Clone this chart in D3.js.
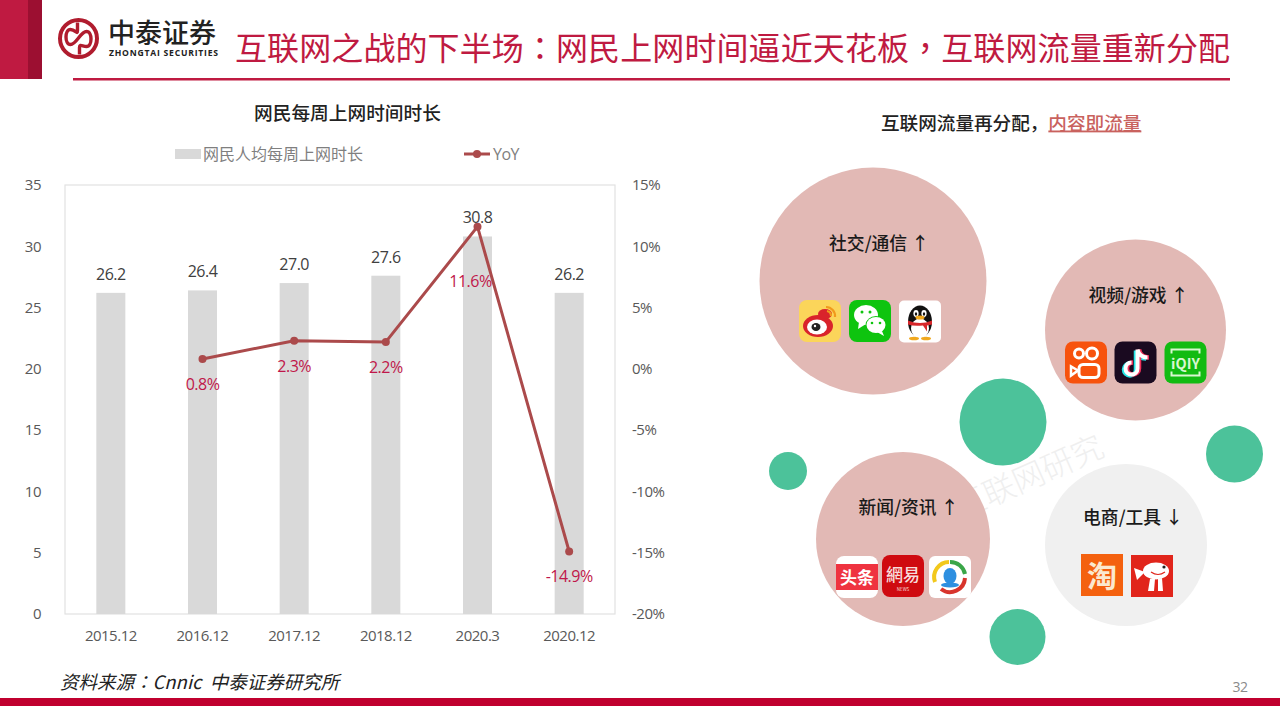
<!DOCTYPE html>
<html>
<head>
<meta charset="utf-8">
<script src="https://cdn.jsdelivr.net/npm/d3@7"></script>
<style>
html,body{margin:0;padding:0;background:#fff;overflow:hidden}
text{font-family:"Noto Sans CJK SC","Noto Sans",sans-serif}
.num{font-family:"Open Sans","Noto Sans CJK SC",sans-serif;letter-spacing:-0.5px}
</style>
</head>
<body>
<div id="chart"></div>
<script>
const categories=["2015.12","2016.12","2017.12","2018.12","2020.3","2020.12"];
const hours=[26.2,26.4,27.0,27.6,30.8,26.2];
const yoy=[null,0.8,2.3,2.2,11.6,-14.9];
const leftTicks=[0,5,10,15,20,25,30,35];
const rightTicks=[-20,-15,-10,-5,0,5,10,15];

const bubbles=[
  {name:"社交/通信 ↑",cx:873,cy:281,r:113.5,fill:"#e2b9b5",tx:879,ty:244},
  {name:"视频/游戏 ↑",cx:1135.5,cy:330,r:90.5,fill:"#e2b9b5",tx:1138.5,ty:296},
  {name:"新闻/资讯 ↑",cx:903,cy:539,r:87,fill:"#e2b9b5",tx:908.5,ty:508},
  {name:"电商/工具 ↓",cx:1126,cy:545,r:81,fill:"#f0f0f0",tx:1133,ty:518}
];
const dots=[[1003,422,43.5],[788,471,19],[1234.5,454,28.5],[1017.5,637,28]];

const red="#bf1a41",dark="#9c0f31",deep="#c0002f";
const svg=d3.select("#chart").append("svg").attr("width",1280).attr("height",720).style("display","block");

// header
svg.append("rect").attr("x",0).attr("y",0).attr("width",28).attr("height",79).attr("fill",red);
svg.append("rect").attr("x",28).attr("y",0).attr("width",14).attr("height",79).attr("fill",dark);
svg.append("rect").attr("x",73).attr("y",78).attr("width",1157).attr("height",2.5).attr("fill",red);

// logo
let logo=svg.append("g").attr("transform","translate(78.5,38.5)");
logo.append("circle").attr("r",18.5).attr("fill","none").attr("stroke","#b01c2e").attr("stroke-width",4);
logo.append("path").attr("fill","none").attr("stroke","#b01c2e").attr("stroke-width",3.4)
  .attr("d","M-1,-16 V-8 C-1,-3 -3,-9 -8,-9 C-14,-9 -14,6 -8,6 C-2,6 2,-7 8,-7 C14,-7 14,8 8,8 C4,8 1,5 1,9 V16");
svg.append("text").attr("x",108).attr("y",43).attr("font-size",27).attr("font-weight",500).attr("fill","#222").text("中泰证券");
svg.append("text").attr("x",109).attr("y",55.5).attr("font-size",8.6).attr("font-weight",700).attr("fill","#222")
  .attr("textLength",109).style("font-family","'Open Sans',sans-serif").text("ZHONGTAI SECURITIES");

// title, centred punctuation comes from the TC face
let title=svg.append("text").attr("x",235).attr("y",60).attr("font-size",32).attr("letter-spacing",0.1).attr("fill",red);
title.append("tspan").text("互联网之战的下半场");
title.append("tspan").style("font-family","'Noto Sans CJK TC'").text("：");
title.append("tspan").text("网民上网时间逼近天花板");
title.append("tspan").style("font-family","'Noto Sans CJK TC'").text("，");
title.append("tspan").text("互联网流量重新分配");

// footer
svg.append("rect").attr("x",0).attr("y",698).attr("width",1280).attr("height",8).attr("fill",deep);
svg.append("text").attr("class","num").attr("x",1240).attr("y",692).attr("text-anchor","middle").attr("font-size",14).attr("fill","#8a8a8a").text("32");
let src=svg.append("text").attr("x",60).attr("y",689).attr("font-size",18.5).attr("font-style","italic").attr("fill","#222").style("white-space","pre");
src.append("tspan").text("资料来源");
src.append("tspan").style("font-family","'Noto Sans CJK TC'").text("：");
src.append("tspan").text("Cnnic  中泰证券研究所");

// left chart
const x0=65,x1=615,yTop=185,yBot=614;
const x=d3.scaleBand().domain(categories).range([x0,x1]);
const y=d3.scaleLinear().domain([0,35]).range([yBot,yTop]);
const y2=d3.scaleLinear().domain([-20,15]).range([yBot,yTop]);
const barW=29;

svg.append("text").attr("x",347.5).attr("y",120).attr("text-anchor","middle").attr("font-size",18.7).attr("font-weight",500).attr("fill","#222").text("网民每周上网时间时长");

svg.append("rect").attr("x",x0).attr("y",yTop).attr("width",x1-x0).attr("height",yBot-yTop).attr("fill","none").attr("stroke","#e2e2e2").attr("stroke-width",1.2);

svg.selectAll(".bar").data(categories).enter().append("rect").attr("class","bar")
  .attr("x",d=>x(d)+x.bandwidth()/2-barW/2)
  .attr("width",barW)
  .attr("y",(d,i)=>y(hours[i]))
  .attr("height",(d,i)=>yBot-y(hours[i]))
  .attr("fill","#d9d9d9");

function cleanAxis(g){
  g.select(".domain").remove();
  g.selectAll(".tick line").remove();
  g.selectAll("text").attr("class","num").attr("fill","#595959").attr("font-size",15);
}
svg.append("g").attr("transform","translate("+(x0-21)+",0)")
  .call(d3.axisLeft(y).tickValues(leftTicks).tickSize(0).tickFormat(d3.format("d"))).call(cleanAxis);
svg.append("g").attr("transform","translate(632,0)")
  .call(d3.axisRight(y2).tickValues(rightTicks).tickSize(0).tickFormat(d=>d+"%")).call(cleanAxis)
  .selectAll("text").attr("x",0).attr("text-anchor","start");
svg.append("g").attr("transform","translate(0,"+(yBot+16)+")")
  .call(d3.axisBottom(x).tickSize(0).tickPadding(0)).call(cleanAxis)
  .selectAll("text").attr("dy","0.75em");

const pts=categories.map((c,i)=>({c:c,v:yoy[i],i:i})).filter(d=>d.v!==null);
const line=d3.line().x(d=>x(d.c)+x.bandwidth()/2).y(d=>y2(d.v));
svg.append("path").datum(pts).attr("d",line).attr("fill","none").attr("stroke","#ab4a4b").attr("stroke-width",3).attr("stroke-linejoin","round");
svg.selectAll(".pt").data(pts).enter().append("circle").attr("class","pt")
  .attr("cx",d=>x(d.c)+x.bandwidth()/2).attr("cy",d=>y2(d.v)).attr("r",4).attr("fill","#ab4a4b");

svg.selectAll(".barlabel").data(categories).enter().append("text").attr("class","num barlabel")
  .attr("x",d=>x(d)+x.bandwidth()/2).attr("y",(d,i)=>y(hours[i])-13)
  .attr("text-anchor","middle").attr("font-size",16).attr("fill","#404040")
  .text((d,i)=>hours[i].toFixed(1));
svg.selectAll(".yoylabel").data(pts).enter().append("text").attr("class","num yoylabel")
  .attr("x",d=>x(d.c)+x.bandwidth()/2+(d.v===11.6?-7:0)).attr("y",d=>y2(d.v)+(d.v===11.6?60:31))
  .attr("text-anchor","middle").attr("font-size",16).attr("fill","#c0174a")
  .text(d=>d.v.toFixed(1)+"%");

// legend
svg.append("rect").attr("x",175).attr("y",149).attr("width",26).attr("height",10).attr("fill","#d9d9d9");
svg.append("text").attr("x",203).attr("y",159.5).attr("font-size",16).attr("fill","#7f7f7f").text("网民人均每周上网时长");
svg.append("line").attr("x1",464).attr("x2",490).attr("y1",154).attr("y2",154).attr("stroke","#ab4a4b").attr("stroke-width",3);
svg.append("circle").attr("cx",477).attr("cy",154).attr("r",4).attr("fill","#ab4a4b");
svg.append("text").attr("class","num").attr("x",493).attr("y",159.5).attr("font-size",16).attr("fill","#7f7f7f").text("YoY");

// right panel
let rt=svg.append("text").attr("x",881).attr("y",129.5).attr("font-size",18.6).attr("font-weight",500).attr("fill","#222");
rt.append("tspan").text("互联网流量再分配，");
rt.append("tspan").attr("fill","#c9625e").attr("text-decoration","underline").text("内容即流量");

svg.append("text").attr("transform","translate(960,520) rotate(-24)").attr("font-size",32).attr("font-weight",300).attr("fill","#efefef").text("互联网研究");

svg.selectAll(".dot").data(dots).enter().append("circle").attr("class","dot")
  .attr("cx",d=>d[0]).attr("cy",d=>d[1]).attr("r",d=>d[2]).attr("fill","#4cc29a");
svg.selectAll(".bubble").data(bubbles).enter().append("circle").attr("class","bubble")
  .attr("cx",d=>d.cx).attr("cy",d=>d.cy).attr("r",d=>d.r).attr("fill",d=>d.fill);
svg.selectAll(".bname").data(bubbles).enter().append("text").attr("class","bname")
  .attr("x",d=>d.tx).attr("y",d=>d.ty+6)
  .attr("text-anchor","middle").attr("font-size",17.8).attr("font-weight",500).attr("fill","#1a1a1a").text(d=>d.name);

// app icons, each drawn in a 42x42 box
function icon(px,py,bg,draw,rx){
  let g=svg.append("g").attr("transform","translate("+px+","+py+")");
  g.append("rect").attr("width",42).attr("height",42).attr("rx",rx===undefined?8:rx).attr("fill",bg);
  draw(g);
}
function blob(g,cx,cy,rx,ry,fill){g.append("ellipse").attr("cx",cx).attr("cy",cy).attr("rx",rx).attr("ry",ry).attr("fill",fill);}
function label(g,t,xx,yy,size,fill,w){g.append("text").attr("x",xx).attr("y",yy).attr("text-anchor","middle").attr("font-size",size).attr("font-weight",w||700).attr("fill",fill).text(t);}

icon(799,300,"#fbd55a",g=>{
  blob(g,19,26,15,11,"#d9232b");blob(g,26,14,7,5,"#d9232b");
  blob(g,18,27,10,7.5,"#fff");blob(g,17,27,4.5,4,"#222");blob(g,16,26,1.2,1.2,"#fff");
  g.append("path").attr("d","M27,7 A9,9 0 0 1 36,17 M28,11 A5,5 0 0 1 32,16").attr("fill","none").attr("stroke","#f19a1c").attr("stroke-width",2.2);
});
icon(849,300,"#0ec40f",g=>{
  blob(g,17,15,12,10,"#fff");g.append("path").attr("d","M10,22 L9,29 L17,24 Z").attr("fill","#fff");
  blob(g,27,25,10.5,9,"#0ec40f");blob(g,27,25,9.5,8,"#fff");
  g.append("path").attr("d","M33,31 L35,36 L28,32 Z").attr("fill","#fff");
  [[13,12],[21,12]].forEach(p=>blob(g,p[0],p[1],1.5,1.5,"#0ec40f"));
  [[23,23],[31,23]].forEach(p=>blob(g,p[0],p[1],1.3,1.3,"#0ec40f"));
});
icon(899,300.5,"#fff",g=>{
  blob(g,21,21,12,16,"#111");blob(g,21,28,9,10,"#fff");
  blob(g,17,13,2.6,3.4,"#fff");blob(g,25,13,2.6,3.4,"#fff");
  blob(g,17,13.5,1.2,1.8,"#111");blob(g,25,13.5,1.2,1.8,"#111");
  blob(g,21,17,4.5,2,"#f0a81e");
  g.append("path").attr("d","M9,20 Q21,25 33,20 L33,24 L28,25 L28,31 L24,25 Q15,26 9,24 Z").attr("fill","#d6262a");
  blob(g,15,38,5,1.8,"#f0a81e");blob(g,27,38,5,1.8,"#f0a81e");
},5);
icon(1065,341.5,"#f7520d",g=>{
  g.selectAll(null).data([[14,12,4.5],[27,12,5.5]]).enter().append("circle")
    .attr("cx",d=>d[0]).attr("cy",d=>d[1]).attr("r",d=>d[2]).attr("fill","none").attr("stroke","#fff").attr("stroke-width",3);
  g.append("rect").attr("x",14).attr("y",23).attr("width",20).attr("height",13).attr("rx",4).attr("fill","none").attr("stroke","#fff").attr("stroke-width",3);
  g.append("path").attr("d","M13,29 L6,25 V34 Z").attr("fill","none").attr("stroke","#fff").attr("stroke-width",2.5);
});
icon(1114.5,341.5,"#1a0a20",g=>{
  const note="M23,8 V27 A6,6 0 1 1 17,21 M23,8 C24,13 28,16 33,16";
  g.append("path").attr("d",note).attr("transform","translate(-1.5,1)").attr("fill","none").attr("stroke","#25e6e6").attr("stroke-width",4.5);
  g.append("path").attr("d",note).attr("transform","translate(1.5,0)").attr("fill","none").attr("stroke","#f0305a").attr("stroke-width",4.5);
  g.append("path").attr("d",note).attr("fill","none").attr("stroke","#fff").attr("stroke-width",4);
});
icon(1164.5,341.5,"#12bb12",g=>{
  g.append("path").attr("d","M7,12 V8 H35 V12 M7,30 V34 H35 V30").attr("fill","none").attr("stroke","#d8f7d0").attr("stroke-width",2);
  label(g,"iQIY",21,27,14.5,"#d8f7d0");
});
icon(836,556,"#fff",g=>{
  g.append("rect").attr("y",8).attr("width",42).attr("height",26).attr("fill","#ef3340");
  label(g,"头条",21,28,17,"#fff");
});
icon(882,555,"#cf0a10",g=>{
  label(g,"網易",21,26,17,"#f7dcdc",500);
  label(g,"NEWS",21,36,4.5,"#f7dcdc",400);
});
icon(929,556,"#fff",g=>{
  g.append("path").attr("d","M6,26 A15,15 0 0 1 20,6").attr("fill","none").attr("stroke","#f2c81c").attr("stroke-width",4);
  g.append("path").attr("d","M21,6 A15,15 0 0 1 36,18").attr("fill","none").attr("stroke","#3aa648").attr("stroke-width",4);
  g.append("path").attr("d","M36,22 A15,15 0 0 1 12,33").attr("fill","none").attr("stroke","#d8342c").attr("stroke-width",4);
  blob(g,21,20,6.5,8,"#2d8fe0");blob(g,21,29,9,2.5,"#2d8fe0");
},6);
icon(1081,554,"#f4610f",g=>{label(g,"淘",21,33,30,"#fbe9cf");},0);
icon(1131,555,"#e1251b",g=>{
  blob(g,25,16,13,8.5,"#fff");
  g.append("path").attr("d","M14,17 L3,13 L6,25 Z").attr("fill","#fff");
  g.append("path").attr("d","M19,24 L17,36 L23,36 L24,24 Z M27,24 L27,36 L32,36 L31,23 Z").attr("fill","#fff");
  blob(g,33,12,1.6,1.6,"#222");
  g.append("path").attr("d","M20,17 Q27,22 34,17").attr("fill","none").attr("stroke","#e1251b").attr("stroke-width",1.2);
},0);
</script>
</body>
</html>
